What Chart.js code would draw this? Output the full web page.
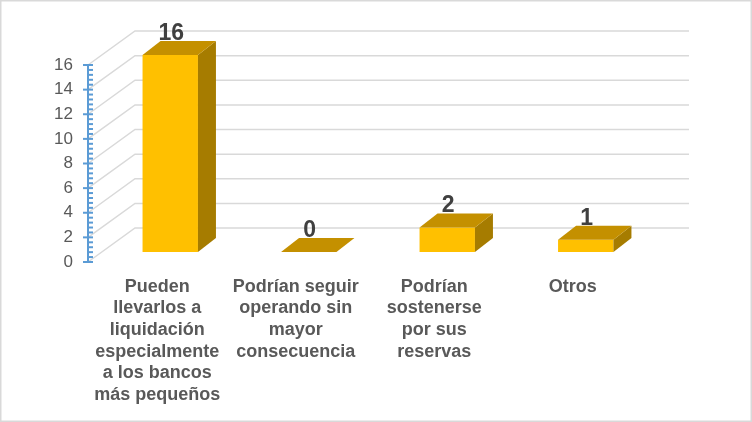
<!DOCTYPE html>
<html>
<head>
<meta charset="utf-8">
<script src="https://cdn.jsdelivr.net/npm/chart.js@4"></script>
<style>
    body { margin: 0; background: #fff; }
    #wrap { width: 752px; height: 422px; position: relative; }
</style>
</head>
<body>
<div id="wrap"><canvas id="respuestas"></canvas></div>
<script>
const categorias = [
    ["Pueden", "llevarlos a", "liquidación", "especialmente", "a los bancos", "más pequeños"],
    ["Podrían seguir", "operando sin", "mayor", "consecuencia"],
    ["Podrían", "sostenerse", "por sus", "reservas"],
    ["Otros"]
];
const respuestas = [16, 0, 2, 1];
const yTicks = [0, 2, 4, 6, 8, 10, 12, 14, 16];

// 3D look: back wall offset, bar offset and bar depth
const WALL_DX = 47, WALL_DY = -34;
const BAR_DX = 13, BAR_DY = -10;
const DEPTH_DX = 18, DEPTH_DY = -14;

const efecto3d = {
    id: 'efecto3d',
    beforeDatasetsDraw: function (chart) {
        const ctx = chart.ctx;
        const y = chart.scales.y;
        const area = chart.chartArea;
        ctx.save();
        ctx.strokeStyle = "#D9D9D9";
        ctx.lineWidth = 1.5;
        yTicks.forEach(function (v) {
            const py = y.getPixelForValue(v);
            ctx.beginPath();
            ctx.moveTo(area.left, py);
            ctx.lineTo(area.left + WALL_DX, py + WALL_DY);
            ctx.lineTo(area.right + WALL_DX, py + WALL_DY);
            ctx.stroke();
        });
        // eje vertical con marcas
        const x0 = area.left;
        ctx.strokeStyle = "#5B9BD5";
        ctx.lineWidth = 2;
        ctx.beginPath();
        ctx.moveTo(x0, y.getPixelForValue(0));
        ctx.lineTo(x0, y.getPixelForValue(16));
        ctx.stroke();
        for (let i = 0; i < yTicks.length; i++) {
            const py = y.getPixelForValue(yTicks[i]);
            ctx.beginPath();
            ctx.moveTo(x0 - 5, py);
            ctx.lineTo(x0 + 5, py);
            ctx.stroke();
            if (i < yTicks.length - 1) {
                for (let k = 1; k < 5; k++) {
                    const pm = y.getPixelForValue(yTicks[i] + k * 0.4);
                    ctx.beginPath();
                    ctx.moveTo(x0, pm);
                    ctx.lineTo(x0 + 5, pm);
                    ctx.stroke();
                }
            }
        }
        ctx.restore();
        ctx.save();
        ctx.translate(BAR_DX, BAR_DY);
    },
    afterDatasetsDraw: function (chart) {
        const ctx = chart.ctx;
        ctx.restore();
        const meta = chart.getDatasetMeta(0);
        ctx.save();
        meta.data.forEach(function (bar, i) {
            const l = bar.x - bar.width / 2 + BAR_DX;
            const r = bar.x + bar.width / 2 + BAR_DX;
            const t = bar.y + BAR_DY;
            const b = bar.base + BAR_DY;
            // cara lateral
            ctx.fillStyle = "#A67C00";
            ctx.beginPath();
            ctx.moveTo(r, t);
            ctx.lineTo(r + DEPTH_DX, t + DEPTH_DY);
            ctx.lineTo(r + DEPTH_DX, b + DEPTH_DY);
            ctx.lineTo(r, b);
            ctx.closePath();
            ctx.fill();
            // cara superior
            ctx.fillStyle = "#C49000";
            ctx.beginPath();
            ctx.moveTo(l, t);
            ctx.lineTo(l + DEPTH_DX, t + DEPTH_DY);
            ctx.lineTo(r + DEPTH_DX, t + DEPTH_DY);
            ctx.lineTo(r, t);
            ctx.closePath();
            ctx.fill();
            // etiqueta
            ctx.fillStyle = "#404040";
            ctx.font = "bold 23px 'Liberation Sans', Arial, sans-serif";
            ctx.textAlign = "center";
            ctx.textBaseline = "bottom";
            ctx.fillText(String(respuestas[i]), bar.x + BAR_DX + 1, t - 10);
        });
        ctx.restore();
    },
    afterDraw: function (chart) {
        const ctx = chart.ctx;
        ctx.save();
        ctx.strokeStyle = "#D9D9D9";
        ctx.lineWidth = 1.5;
        ctx.strokeRect(0.75, 0.75, chart.width - 1.5, chart.height - 1.5);
        ctx.restore();
    }
};

const myBarChart = new Chart(document.getElementById('respuestas'), {
    type: 'bar',
    data: {
        labels: categorias,
        datasets: [{
            data: respuestas,
            backgroundColor: "#FFC000",
            borderWidth: 0,
            barPercentage: 0.4,
            categoryPercentage: 1.0,
            clip: false
        }]
    },
    options: {
        responsive: true,
        maintainAspectRatio: false,
        animation: false,
        layout: {
            padding: { left: 0, right: 110, top: 65, bottom: 0 }
        },
        plugins: {
            legend: { display: false },
            tooltip: { enabled: false }
        },
        scales: {
            x: {
                grid: { display: false },
                border: { display: false },
                ticks: {
                    color: "#595959",
                    padding: 6,
                    maxRotation: 0,
                    autoSkip: false,
                    font: { family: "'Liberation Sans', Arial, sans-serif", size: 18, weight: 'bold', lineHeight: 1.2 }
                },
                afterFit: function (scale) { scale.height = 160; }
            },
            y: {
                min: 0,
                max: 16,
                grid: { display: false },
                border: { display: false },
                ticks: {
                    stepSize: 2,
                    color: "#595959",
                    padding: 7,
                    font: { family: "'Liberation Sans', Arial, sans-serif", size: 17 }
                },
                afterFit: function (scale) { scale.width = 88; }
            }
        }
    },
    plugins: [efecto3d]
});
</script>
</body>
</html>
